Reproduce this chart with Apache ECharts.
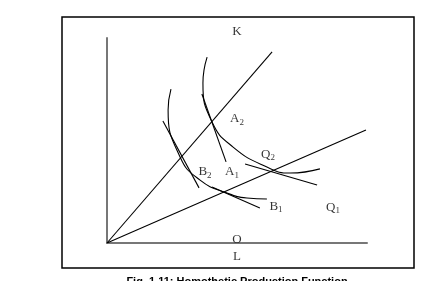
<!DOCTYPE html>
<html><head><meta charset="utf-8">
<script src="https://cdn.jsdelivr.net/npm/echarts@6/dist/echarts.min.js"></script>
<style>html,body{margin:0;padding:0;background:#fff}#c{width:437px;height:281px}</style>
</head><body><div id="c"></div>
<script>
// Data (L on x, K on y)
var rayA = [[0, 0], [6.35, 7.35]];
var rayB = [[0, 0], [9.96, 4.35]];
var isoQ2 = [[3.85, 7.15], [3.69, 6.15], [4.04, 4.65], [4.85, 3.69], [6.15, 2.92], [7.04, 2.69], [8.19, 2.85]];
var isoQ1 = [[2.46, 5.92], [2.35, 5.12], [2.81, 3.31], [3.58, 2.42], [4.62, 1.92], [5.38, 1.73], [6.15, 1.69]];
var tangentA = [[3.65, 5.73], [4.58, 3.12]];
var tangentB = [[2.15, 4.69], [3.54, 2.12]];
var tangentC = [[4.04, 2.15], [5.88, 1.35]];
var tangentD = [[5.31, 3.04], [8.08, 2.23]];
var labelNames = ['K', 'A{s|2}', 'Q{s|2}', 'B{s|2}', 'A{s|1}', 'B{s|1}', 'Q{s|1}', 'O', 'L'];
var labelPos = [[5.0, 8.15], [5.0, 4.77], [6.19, 3.42], [3.77, 2.73], [4.81, 2.73], [6.5, 1.42], [8.69, 1.38], [5.0, 0.15], [5.0, -0.54]];
var caption = 'Fig. 1.11: Homothetic Production Function';

var chart = echarts.init(document.getElementById('c'));
function line(d, smooth) {
  return {type: 'line', data: d, smooth: smooth ? 0.5 : false, symbol: 'none', silent: true,
    lineStyle: {color: '#000', width: 1.1}};
}
var labelData = labelNames.map(function (n, i) { return {value: labelPos[i], name: n}; });
chart.setOption({
  animation: false,
  grid: {left: 107, top: 38, width: 260, height: 205},
  xAxis: {type: 'value', min: 0, max: 10, axisLine: {show: true, lineStyle: {color: '#777', width: 2}},
    axisTick: {show: false}, axisLabel: {show: false}, splitLine: {show: false}},
  yAxis: {type: 'value', min: 0, max: 7.8846, axisLine: {show: true, lineStyle: {color: '#777', width: 2}},
    axisTick: {show: false}, axisLabel: {show: false}, splitLine: {show: false}},
  graphic: [
    {type: 'rect', shape: {x: 62, y: 17, width: 352, height: 251}, style: {fill: 'none', stroke: '#000', lineWidth: 1.5}, z: 100},
    {type: 'text', x: 237, y: 276, style: {text: caption, fill: '#000', font: 'bold 11px "Liberation Sans", Arial, sans-serif', textAlign: 'center', textVerticalAlign: 'top'}}
  ],
  series: [
    line(rayA), line(rayB), line(isoQ2, true), line(isoQ1, true),
    line(tangentA), line(tangentB), line(tangentC), line(tangentD),
    {type: 'scatter', data: labelData, symbolSize: 0, clip: false, silent: true,
      label: {show: true, position: 'inside', formatter: function (p) { return p.name; },
        color: '#000', fontFamily: '"Liberation Serif", "Times New Roman", serif', fontSize: 13,
        rich: {s: {fontSize: 9, fontFamily: '"Liberation Serif", serif', color: '#000', verticalAlign: 'bottom', padding: [0, 0, -2, 0]}}}}
  ]
});
</script></body></html>
